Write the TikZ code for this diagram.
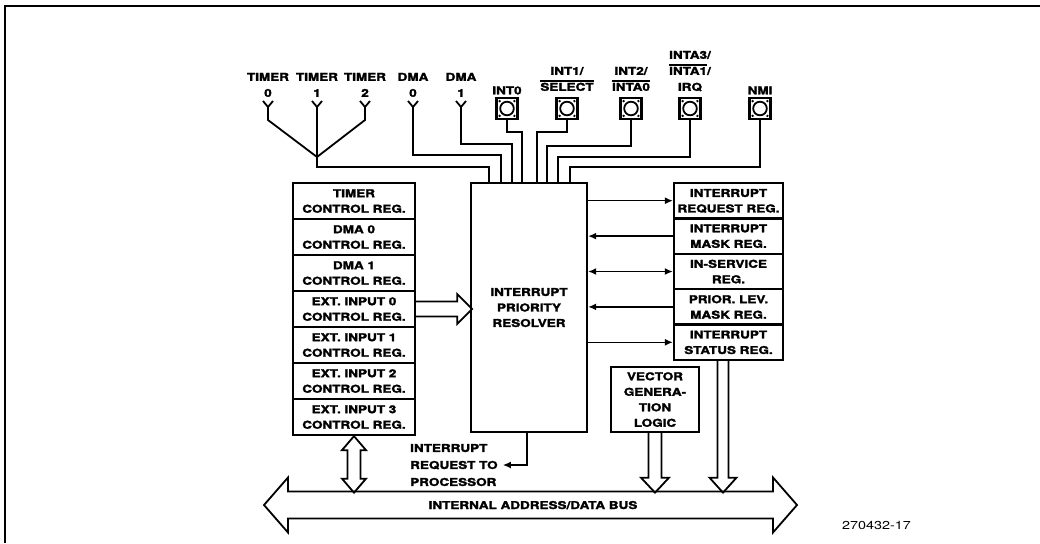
\documentclass[tikz,border=0pt]{standalone}
\usepackage{fontspec}
\setmainfont{TeX Gyre Heros}[FakeStretch=1.25,BoldFeatures={FakeBold=2.2}]
\usetikzlibrary{arrows.meta,calc}
\newcommand\ovl[1]{\leavevmode\vbox{\hrule height 1.3pt\kern1.2pt\hbox{#1}}}
\begin{document}
\begin{tikzpicture}[x=1pt,y=-1pt,line join=miter,
  lbl/.style={font=\bfseries\fontsize{10.8}{15.5}\selectfont,align=center,inner sep=0pt,text depth=0pt},
  toplbl/.style={lbl,font=\bfseries\fontsize{10.8}{16}\selectfont,anchor=south},
  conn/.style={line width=1.8pt},
  box/.style={draw,line width=2.3pt,lbl},
  lreg/.style={box,minimum width=122pt,minimum height=36pt},
  rreg/.style={box,minimum width=109pt,minimum height=35.4pt},
  pad/.style={draw,line width=2.5pt,minimum size=21pt,inner sep=0pt},
  hol/.style={draw,line width=1.8pt,line join=miter},
  tip/.style={-{Latex[length=8pt,width=7pt]}},
  bothtip/.style={{Latex[length=8pt,width=7pt]}-{Latex[length=8pt,width=7pt]}},
  thin/.style={line width=1.5pt}]
\useasboundingbox (0,0) rectangle (1040,543);
\draw[line width=2pt] (5,543) -- (5,6) -- (1040,6);

% main blocks
\node[box,minimum width=116pt,minimum height=249pt] (res) at (529,307.5) {INTERRUPT\\PRIORITY\\RESOLVER};

\node[lreg] (l1) at (354,201) {TIMER\\CONTROL REG.};
\node[lreg] (l2) at (354,237) {DMA 0\\CONTROL REG.};
\node[lreg] (l3) at (354,273) {DMA 1\\CONTROL REG.};
\node[lreg] (l4) at (354,309) {EXT. INPUT 0\\CONTROL REG.};
\node[lreg] (l5) at (354,345) {EXT. INPUT 1\\CONTROL REG.};
\node[lreg] (l6) at (354,381) {EXT. INPUT 2\\CONTROL REG.};
\node[lreg] (l7) at (354,417) {EXT. INPUT 3\\CONTROL REG.};

\node[rreg] (r1) at (728.5,200.7) {INTERRUPT\\REQUEST REG.};
\node[rreg] (r2) at (728.5,236.1) {INTERRUPT\\MASK REG.};
\node[rreg] (r3) at (728.5,271.5) {IN-SERVICE\\REG.};
\node[rreg] (r4) at (728.5,306.9) {PRIOR. LEV.\\MASK REG.};
\node[rreg] (r5) at (728.5,342.3) {INTERRUPT\\STATUS REG.};

\node[box,minimum width=88pt,minimum height=65pt] (vgl) at (655,399.5) {VECTOR\\GENERA-\\TION\\LOGIC};

% top labels
\node[toplbl] (lt0) at (268,97) {TIMER\\0};
\node[toplbl] (lt1) at (317,97) {TIMER\\1};
\node[toplbl] (lt2) at (365,97) {TIMER\\2};
\node[toplbl] (ld0) at (413,97) {DMA\\0};
\node[toplbl] (ld1) at (461,97) {DMA\\1};
\node[toplbl] (li0) at (507,94.5) {INT0};
\node[toplbl] (li1) at (567,91) {INT1/\\\ovl{SELECT}};
\node[toplbl] (li2) at (631,91) {INT2/\\\ovl{INTA0}};
\node[toplbl] (li3) at (690,91) {INTA3/\\\ovl{INTA1}/\\IRQ};
\node[toplbl] (li4) at (760,94.5) {NMI};

% pads
\foreach \n/\x in {p0/507,p1/567,p2/631,p3/690,p4/760}{
  \node[pad] (\n) at (\x,108.5) {};
  \draw[line width=1.8pt] (\n.center) circle[radius=6.8pt];
  \foreach \dx/\dy in {1/1,-1/1,1/-1,-1/-1}{
    \fill ($(\n.center)+(\dx*7.4,\dy*7.4)$) circle[radius=1.3pt];}
}

% forks
\foreach \n/\x in {t0/268,t1/317,t2/365,d0/413,d1/461}{
  \coordinate (\n) at (\x,107);
  \draw[conn] ($(\n)+(-5,-6)$) -- (\n) -- ($(\n)+(5,-6)$);
}
\coordinate (tj) at (317,157);
\draw[conn] (t0) -- ++(0,13) -- (tj);
\draw[conn] (t2) -- ++(0,13) -- (tj);
\draw[conn] (t1) -- (tj) -- ++(0,10) -| ([xshift=-40pt]res.north);
\draw[conn] (d0) -- (d0 |- 0,155) -| ([xshift=-28pt]res.north);
\draw[conn] (d1) -- (d1 |- 0,144) -| ([xshift=-17pt]res.north);
\draw[conn] (p0.south) -- (p0.south |- 0,132) -| ([xshift=-7pt]res.north);
\draw[conn] (p1.south) -- (p1.south |- 0,132) -| ([xshift=8pt]res.north);
\draw[conn] (p2.south) -- (p2.south |- 0,146) -| ([xshift=18pt]res.north);
\draw[conn] (p3.south) -- (p3.south |- 0,157) -| ([xshift=29pt]res.north);
\draw[conn] (p4.south) -- (p4.south |- 0,167) -| ([xshift=41pt]res.north);

% resolver <-> registers
\draw[thin,tip] (res.east |- r1) -- (r1.west);
\draw[thin,tip] (r2.west) -- (res.east |- r2);
\draw[thin,bothtip] (res.east |- r3) -- (r3.west);
\draw[thin,tip] (r4.west) -- (res.east |- r4);
\draw[thin,tip] (res.east |- r5) -- (r5.west);

% hollow arrow control regs -> resolver
\draw[hol] ($(l4.east)+(0,-7.5)$) -- ++(41,0) -- ++(0,-7.5) -- ++(15,15) -- ++(-15,15) -- ++(0,-7.5) -- ++(-41,0);

% bus
\coordinate (busL) at (264,505);
\coordinate (busR) at (797,505);
\draw[hol] (busL) -- ++(24,-27.5) -- ++(0,14) -- ++(485,0) -- ++(0,-14) -- (busR)
  -- ++(-24,27.5) -- ++(0,-14) -- ++(-485,0) -- ++(0,14) -- cycle;
\node[lbl] (bus) at (533,505) {INTERNAL ADDRESS/DATA BUS};

% double arrow left stack <-> bus
\draw[hol] (l7.south) -- ++(12,14) -- ++(-5.5,0) -- ++(0,28.5) -- ++(5.5,0) -- ++(-12,14)
  -- ++(-12,-14) -- ++(5.5,0) -- ++(0,-28.5) -- ++(-5.5,0) -- cycle;

% VGL -> bus
\draw[hol] ([xshift=-6.5pt]vgl.south) -- ++(0,44.5) -- ++(-7.5,0) -- ++(14,15) -- ++(14,-15) -- ++(-7.5,0) -- ++(0,-44.5);

% status -> bus
\draw[hol] ([xshift=-11pt]r5.south) -- ++(0,116.5) -- ++(-8,0) -- ++(13.5,15) -- ++(13.5,-15) -- ++(-8,0) -- ++(0,-116.5);

% interrupt request to processor
\node[lbl,align=left,anchor=west,font=\bfseries\fontsize{10.8}{17}\selectfont] (irq) at (410,465) {INTERRUPT\\REQUEST TO\\PROCESSOR};
\draw[conn,tip] ([xshift=-2pt]res.south) |- ([xshift=5pt]irq.east);

\node[anchor=east,inner sep=0pt,font=\fontsize{11.5}{13}\selectfont] (fig) at (911,526) {270432-17};
\end{tikzpicture}
\end{document}
